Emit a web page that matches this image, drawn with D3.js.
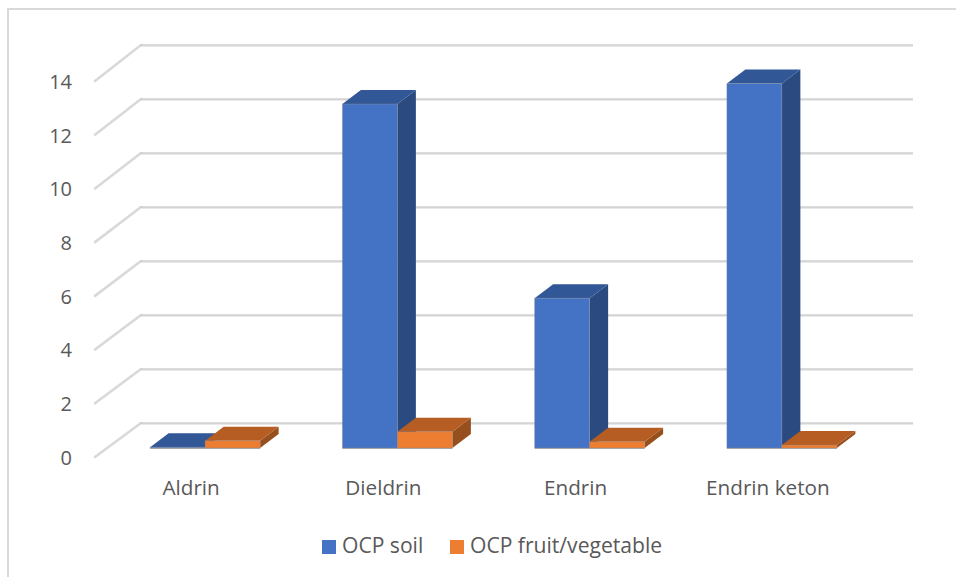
<!DOCTYPE html>
<html>
<head>
<meta charset="utf-8">
<script src="https://cdn.jsdelivr.net/npm/d3@7"></script>
<style>
  html, body { margin: 0; padding: 0; background: #fff; }
  svg { display: block; }
  text { font-family: "Open Sans", sans-serif; fill: #595959; }
</style>
</head>
<body>
<svg id="chart" width="956" height="577"></svg>
<script>
const categories = ["Aldrin", "Dieldrin", "Endrin", "Endrin keton"];
const seriesNames = ["OCP soil", "OCP fruit/vegetable"];
const soilValues = [0.03, 12.74, 5.55, 13.5];
const fruitValues = [0.27, 0.6, 0.23, 0.11];
const yTicks = [0, 2, 4, 6, 8, 10, 12, 14];

const frontColors = ["#4472c4", "#ed7d31"];
const topColors = ["#325797", "#b55d22"];
const sideColors = ["#2a4a80", "#97501d"];

const svg = d3.select("#chart");

// Chart frame: only the left and top edges are visible
svg.append("path")
  .attr("d", "M8,577V9H956")
  .attr("fill", "none")
  .attr("stroke", "#d9d9d9")
  .attr("stroke-width", 2);

// One value scale per depth plane: bar fronts, axis edge, back wall
const yBar = d3.scaleLinear().domain([0, 14]).range([448, 70]);
const yEdge = d3.scaleLinear().domain([0, 14]).range([457, 81]);
const yWall = d3.scaleLinear().domain([0, 14]).range([423, 45]);

const x0 = d3.scaleBand().domain(categories).range([95, 864]).paddingInner(0).paddingOuter(0);
const x1 = d3.scaleBand().domain([0, 1]).range([0, 110]);
const groupOffset = (x0.bandwidth() - 110) / 2 + 14;
const wallLeft = 141, wallRight = 913, edgeLeft = 95;
const depthX = 18.5, depthY = 14;

// Gridlines: slanted side-wall segment, then the back-wall segment with a soft lower edge
const grid = svg.append("g");
grid.selectAll("path.side")
  .data(yTicks)
  .join("path")
  .attr("class", "side")
  .attr("d", t => `M${edgeLeft},${yEdge(t)}L${wallLeft},${yWall(t)}`)
  .attr("fill", "none")
  .attr("stroke", "#d9d9d9")
  .attr("stroke-width", 2.6)
  .attr("stroke-linecap", "round");
[["#e2e2e2", 1.2, 1.2], ["#b9b9b9", 1.1, 0]].forEach(([stroke, width, shift], k) => {
  grid.selectAll(`path.wall${k}`)
    .data(yTicks)
    .join("path")
    .attr("class", `wall${k}`)
    .attr("d", t => `M${wallLeft},${yWall(t) + shift}H${wallRight}`)
    .attr("fill", "none")
    .attr("stroke", stroke)
    .attr("stroke-width", width);
});

// Value axis labels
const yAxis = d3.axisLeft(yEdge).tickValues(yTicks).tickSize(0).tickPadding(0);
const yAxisG = svg.append("g").attr("transform", "translate(72,1)").call(yAxis);
yAxisG.select(".domain").remove();
yAxisG.selectAll("text").attr("font-size", 20).style("font-family", '"Open Sans", sans-serif').attr("fill", "#595959");

// Bars, each drawn from its side face, top face and front face
const bars = [];
categories.forEach((c, i) => {
  [soilValues[i], fruitValues[i]].forEach((v, s) => bars.push({ c, s, v }));
});

const barG = svg.append("g").selectAll("g")
  .data(bars)
  .join("g");

const left = d => x0(d.c) + groupOffset + x1(d.s);
const right = d => left(d) + x1.bandwidth();

barG.append("path")
  .attr("fill", d => sideColors[d.s])
  .attr("d", d => `M${right(d)},${yBar(d.v)}l${depthX},${-depthY}V${yBar(0) - depthY}L${right(d)},${yBar(0)}Z`);
barG.append("path")
  .attr("fill", d => topColors[d.s])
  .attr("d", d => `M${left(d)},${yBar(d.v)}l${depthX},${-depthY}H${right(d) + depthX}L${right(d)},${yBar(d.v)}Z`);
barG.append("rect")
  .attr("fill", d => frontColors[d.s])
  .attr("stroke", "#8f8f8f")
  .attr("stroke-opacity", 0.45)
  .attr("stroke-width", 0.8)
  .attr("x", left)
  .attr("y", d => yBar(d.v))
  .attr("width", x1.bandwidth())
  .attr("height", d => yBar(0) - yBar(d.v));

// Soft grey baseline under each group
svg.append("g").selectAll("line")
  .data(categories)
  .join("line")
  .attr("x1", c => x0(c) + groupOffset)
  .attr("x2", c => x0(c) + groupOffset + 110)
  .attr("y1", yBar(0) + 0.5)
  .attr("y2", yBar(0) + 0.5)
  .attr("stroke", "#a6a6a6")
  .attr("stroke-width", 1);

// Category labels
svg.append("g").selectAll("text")
  .data(categories)
  .join("text")
  .attr("x", c => x0(c) + x0.bandwidth() / 2)
  .attr("y", 495)
  .attr("text-anchor", "middle")
  .attr("font-size", 20.7)
  .text(c => c);

// Legend
const legendX = [322, 450];
const legend = svg.append("g").selectAll("g")
  .data(seriesNames)
  .join("g")
  .attr("transform", (d, i) => `translate(${legendX[i]},0)`);
legend.append("rect")
  .attr("y", 540)
  .attr("width", 14)
  .attr("height", 14)
  .attr("fill", (d, i) => frontColors[i]);
legend.append("text")
  .attr("x", 20)
  .attr("y", 553)
  .attr("font-size", 21.1)
  .text(d => d);
</script>
</body>
</html>
